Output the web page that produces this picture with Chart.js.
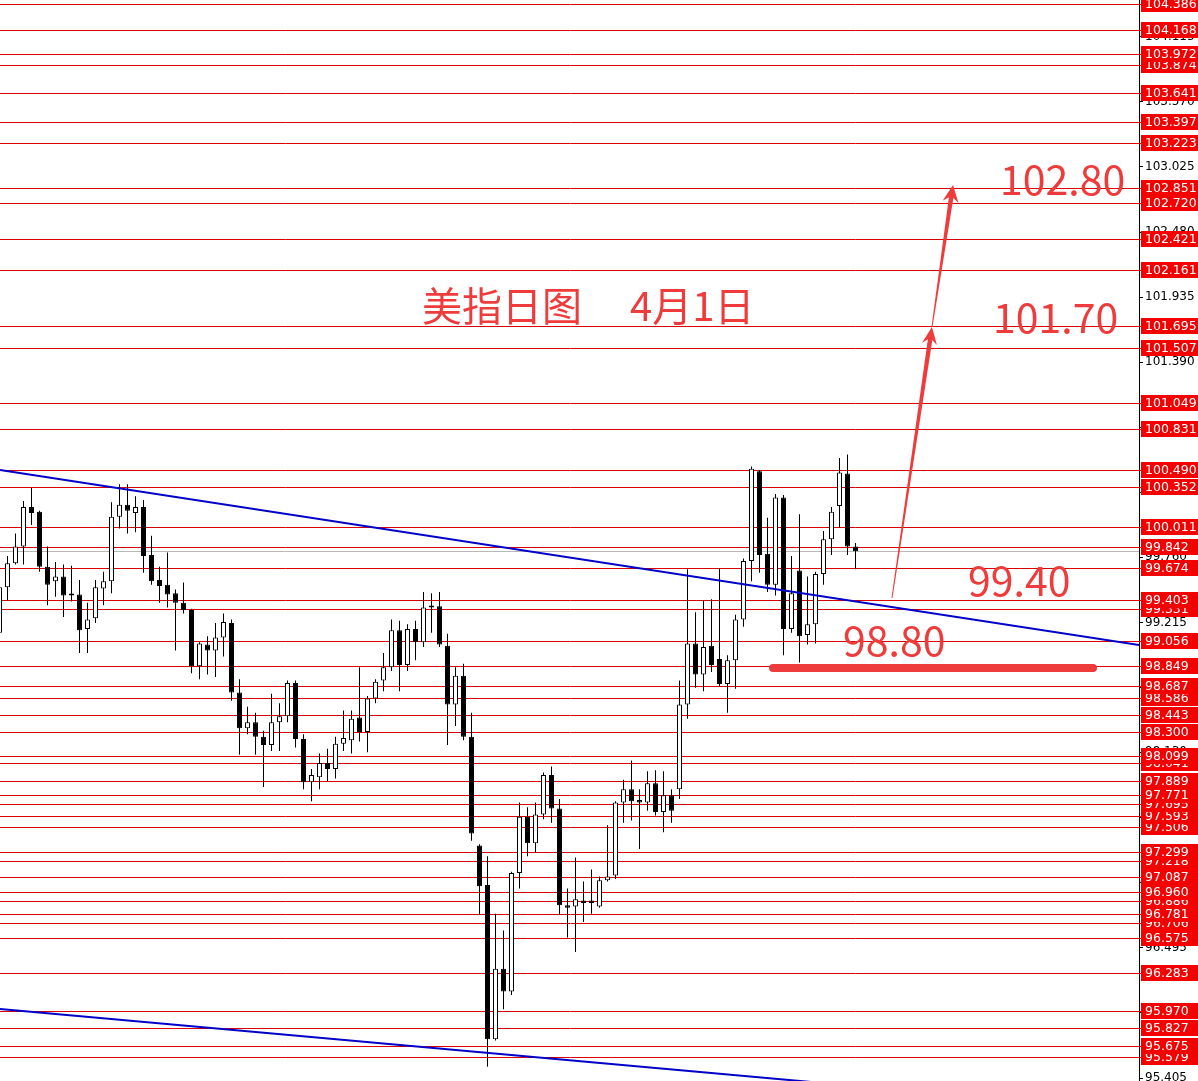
<!DOCTYPE html>
<html>
<head>
<meta charset="utf-8">
<title>美指日图</title>
<script src="https://cdn.jsdelivr.net/npm/chart.js@4.4.1/dist/chart.umd.min.js"></script>
<style>
  html, body { margin: 0; padding: 0; background: #fff; }
  #wrap { width: 1198px; height: 1081px; position: relative; }
</style>
</head>
<body>
<div id="wrap"><canvas id="chart"></canvas></div>
<script>
// daily candles (oldest first)
const opens = [99.13, 99.51, 99.71, 99.85, 100.18, 100.14, 99.68, 99.56, 99.60, 99.45,
  99.45, 99.16, 99.25, 99.50, 99.56, 100.10, 100.20, 100.13, 100.18, 99.78,
  99.57, 99.53, 99.46, 99.38, 99.32, 98.85, 99.03, 98.98, 99.09, 99.21,
  98.63, 98.33, 98.38, 98.26, 98.19, 98.38, 98.43, 98.71, 98.24, 97.88,
  97.92, 98.04, 97.99, 98.20, 98.23, 98.42, 98.30, 98.58, 98.73, 98.84,
  99.15, 98.86, 99.16, 99.05, 99.34, 99.35, 99.02, 98.53, 98.77, 98.26,
  97.35, 97.02, 95.73, 96.32, 96.13, 97.12, 97.59, 97.37, 97.61, 97.94,
  97.66, 96.85, 96.84, 96.89, 96.89, 96.84, 97.06, 97.10, 97.71, 97.82,
  97.73, 97.71, 97.87, 97.63, 97.77, 97.82, 98.53, 99.04, 98.78, 99.02,
  98.91, 98.70, 98.90, 99.24, 99.73, 100.48, 99.79, 99.53, 100.26, 99.16,
  99.65, 99.11, 99.20, 99.62, 99.91, 100.19, 100.46, 99.85];
const highs = [99.57, 99.77, 99.96, 100.23, 100.34, 100.15, 99.85, 99.72, 99.70, 99.69,
  99.57, 99.38, 99.57, 99.64, 100.22, 100.37, 100.37, 100.27, 100.24, 99.94,
  99.68, 99.80, 99.49, 99.55, 99.33, 99.05, 99.10, 99.21, 99.29, 99.24,
  98.74, 98.51, 98.46, 98.31, 98.62, 98.54, 98.73, 98.73, 98.28, 97.99,
  98.12, 98.16, 98.26, 98.48, 98.48, 98.84, 98.60, 98.74, 98.96, 99.24,
  99.23, 99.20, 99.23, 99.47, 99.46, 99.47, 99.12, 98.84, 98.87, 98.46,
  97.36, 97.26, 96.78, 96.64, 97.13, 97.71, 97.67, 97.71, 97.96, 98.01,
  97.74, 96.99, 97.25, 97.05, 97.15, 97.09, 97.52, 97.72, 97.90, 98.06,
  97.82, 97.97, 97.98, 97.97, 97.82, 98.73, 99.66, 99.30, 99.40, 99.41,
  99.67, 98.94, 99.28, 99.75, 100.52, 100.49, 100.09, 100.29, 100.28, 99.77,
  100.12, 99.60, 99.64, 99.98, 100.18, 100.59, 100.62, 99.88];
const lows = [99.07, 99.40, 99.70, 99.70, 100.03, 99.64, 99.36, 99.43, 99.26, 99.39,
  98.96, 98.96, 99.21, 99.36, 99.46, 100.00, 99.96, 99.97, 99.63, 99.53,
  99.38, 99.34, 98.98, 99.29, 98.79, 98.74, 98.78, 98.76, 98.93, 98.56,
  98.11, 98.28, 98.11, 97.84, 98.14, 98.14, 98.38, 98.17, 97.82, 97.72,
  97.82, 97.89, 97.91, 98.14, 98.12, 98.22, 98.13, 98.54, 98.64, 98.81,
  98.64, 98.81, 98.90, 99.01, 99.13, 99.01, 98.19, 98.35, 98.23, 97.39,
  96.77, 95.50, 95.72, 95.98, 96.10, 96.99, 97.26, 97.29, 97.57, 97.54,
  96.77, 96.58, 96.46, 96.71, 96.78, 96.83, 97.05, 97.07, 97.54, 97.56,
  97.32, 97.64, 97.60, 97.46, 97.54, 97.74, 98.41, 98.67, 98.64, 98.80,
  98.68, 98.46, 98.66, 99.18, 99.56, 99.63, 99.47, 99.44, 98.94, 99.13,
  98.88, 99.03, 99.04, 99.53, 99.78, 100.01, 99.78, 99.66];
const closes = [99.51, 99.71, 99.85, 100.18, 100.13, 99.68, 99.53, 99.60, 99.44, 99.44,
  99.15, 99.24, 99.51, 99.56, 100.10, 100.20, 100.15, 100.18, 99.77, 99.56,
  99.52, 99.45, 99.38, 99.32, 98.85, 99.04, 98.98, 99.09, 99.22, 98.63,
  98.33, 98.38, 98.26, 98.19, 98.38, 98.43, 98.71, 98.24, 97.88, 97.94,
  98.04, 97.99, 98.20, 98.25, 98.41, 98.30, 98.58, 98.72, 98.84, 99.15,
  98.86, 99.16, 99.05, 99.34, 99.35, 99.03, 98.53, 98.77, 98.26, 97.45,
  97.01, 95.73, 96.32, 96.13, 97.12, 97.59, 97.37, 97.61, 97.94, 97.66,
  96.85, 96.83, 96.90, 96.87, 96.87, 97.06, 97.09, 97.71, 97.82, 97.72,
  97.71, 97.87, 97.63, 97.77, 97.64, 98.53, 99.04, 98.78, 99.01, 98.86,
  98.70, 98.90, 99.24, 99.73, 100.50, 99.78, 99.53, 100.26, 99.16, 99.46,
  99.10, 99.20, 99.62, 99.91, 100.14, 100.47, 99.85, 99.81];

// horizontal price levels with their red labels
const levels = [104.386, 104.168, 103.972, 103.874, 103.641, 103.397, 103.223, 102.851,
  102.720, 102.421, 102.161, 101.695, 101.507, 101.049, 100.831, 100.490, 100.352,
  100.011, 99.842, 99.674, 99.403, 99.331, 99.056, 98.849, 98.687, 98.586, 98.443,
  98.300, 98.099, 98.041, 97.889, 97.771, 97.695, 97.593, 97.506, 97.299, 97.218,
  97.087, 96.960, 96.886, 96.781, 96.706, 96.575, 96.283, 95.970, 95.827, 95.675, 95.579];
const lastPrice = 99.81;

// axis ticks
const tickValues = [95.405, 95.950, 96.495, 97.040, 97.585, 98.130, 98.675, 99.215, 99.760,
  100.305, 100.845, 101.390, 101.935, 102.480, 103.025, 103.570, 104.115];
const tickLabels = ['95.405', '95.950', '96.495', '97.040', '97.585', '98.130', '98.675', '99.215', '99.760',
  '100.305', '100.845', '101.390', '101.935', '102.480', '103.025', '103.570', '104.115'];

// trend lines (bar index, price)
const upperTrend = [{ x: 0.0625, y: 100.490 }, { x: 142.4375, y: 99.027 }];
const lowerTrend = [{ x: 0.0625, y: 95.983 }, { x: 142.4375, y: 95.126 }];

// hand drawn notes
const targetLabels = [
  { text: '102.80', x: 125.06, y: 102.915 },
  { text: '101.70', x: 124.19, y: 101.761 },
  { text: '99.40', x: 121.06, y: 99.562 },
  { text: '98.80', x: 105.44, y: 99.061 }
];
const titleParts = [
  { text: '美指日图', x: 52.81, y: 101.87 },
  { text: '4月1日', x: 78.81, y: 101.87 }
];
const arrowPath = [[111.56, 99.42], [116.56, 101.686], [119.19, 102.873]];
const supportStroke = [[96.69, 98.835], [136.69, 98.835]];

const RED = '#ee3b3b';

function drawArrow(ctx, x0, y0, x1, y1, w0, w1, headLen, headW) {
  const len = Math.hypot(x1 - x0, y1 - y0);
  const ux = (x1 - x0) / len, uy = (y1 - y0) / len;
  const nx = -uy, ny = ux;
  const bx = x1 - ux * headLen, by = y1 - uy * headLen;
  const jx = x1 - ux * headLen * 0.75, jy = y1 - uy * headLen * 0.75;
  ctx.beginPath();
  ctx.moveTo(x0 + nx * w0 / 2, y0 + ny * w0 / 2);
  ctx.lineTo(jx + nx * w1 / 2, jy + ny * w1 / 2);
  ctx.lineTo(bx + nx * headW / 2, by + ny * headW / 2);
  ctx.lineTo(x1, y1);
  ctx.lineTo(bx - nx * headW / 2, by - ny * headW / 2);
  ctx.lineTo(jx - nx * w1 / 2, jy - ny * w1 / 2);
  ctx.lineTo(x0 - nx * w0 / 2, y0 - ny * w0 / 2);
  ctx.closePath();
  ctx.fill();
}

const levelsPlugin = {
  id: 'levels',
  beforeDatasetsDraw(chart) {
    const { ctx, chartArea: a, scales: { y } } = chart;
    ctx.save();
    ctx.lineWidth = 1;
    ctx.strokeStyle = '#d80000';
    levels.forEach(v => {
      const py = Math.round(y.getPixelForValue(v)) + 0.5;
      ctx.beginPath();
      ctx.moveTo(a.left, py);
      ctx.lineTo(a.right + 2, py);
      ctx.stroke();
    });
    ctx.strokeStyle = '#b8b8b8';
    const lp = Math.round(y.getPixelForValue(lastPrice)) + 0.5;
    ctx.beginPath();
    ctx.moveTo(a.left, lp);
    ctx.lineTo(a.right, lp);
    ctx.stroke();
    ctx.restore();
  },
  afterDraw(chart) {
    const { ctx, chartArea: a, scales: { x, y } } = chart;
    ctx.save();

    // red price boxes on the axis, lowest first so higher ones sit on top
    ctx.font = '12.5px "DejaVu Sans"';
    ctx.textBaseline = 'middle';
    ctx.textAlign = 'left';
    levels.slice().reverse().forEach(v => {
      const py = Math.round(y.getPixelForValue(v));
      ctx.fillStyle = '#f40000';
      ctx.fillRect(a.right + 2, py - 8, 57, 16);
      ctx.fillStyle = '#fff';
      ctx.fillText(v.toFixed(3), a.right + 6, py + 1);
    });

    // support stroke under 98.80
    ctx.strokeStyle = RED;
    ctx.lineCap = 'round';
    ctx.lineWidth = 8;
    ctx.beginPath();
    ctx.moveTo(x.getPixelForValue(supportStroke[0][0]), y.getPixelForValue(supportStroke[0][1]));
    ctx.lineTo(x.getPixelForValue(supportStroke[1][0]), y.getPixelForValue(supportStroke[1][1]));
    ctx.stroke();

    // arrows
    ctx.fillStyle = RED;
    const pts = arrowPath.map(p => [x.getPixelForValue(p[0]), y.getPixelForValue(p[1])]);
    drawArrow(ctx, pts[0][0], pts[0][1], pts[1][0], pts[1][1], 1, 4.5, 17, 15);
    drawArrow(ctx, pts[1][0], pts[1][1], pts[2][0], pts[2][1], 1, 4.5, 17, 16);

    // texts
    ctx.textBaseline = 'alphabetic';
    ctx.font = '41px "Noto Sans CJK SC"';
    targetLabels.forEach(t => {
      ctx.fillText(t.text, x.getPixelForValue(t.x), y.getPixelForValue(t.y) + 15);
    });
    ctx.font = '40px "Noto Sans CJK SC"';
    titleParts.forEach(t => {
      ctx.fillText(t.text, x.getPixelForValue(t.x), y.getPixelForValue(t.y) + 16);
    });
    ctx.restore();
  }
};

const wicks = lows.map((l, i) => ({ x: i, y: [l, highs[i]] }));
const bodies = opens.map((o, i) => ({ x: i, y: [o, closes[i]] }));
const bodyColors = opens.map((o, i) => (closes[i] >= o ? '#ffffff' : '#000000'));

new Chart(document.getElementById('chart'), {
  type: 'bar',
  data: {
    datasets: [
      {
        type: 'line', data: upperTrend, borderColor: '#0000c8', borderWidth: 2,
        pointRadius: 0, order: 0
      },
      {
        type: 'line', data: lowerTrend, borderColor: '#0000c8', borderWidth: 2,
        pointRadius: 0, order: 0
      },
      {
        data: bodies, backgroundColor: bodyColors, borderColor: '#000', borderWidth: 1,
        borderSkipped: false, barThickness: 5, minBarLength: 2, grouped: false,
        inflateAmount: 0, order: 1
      },
      {
        data: wicks, backgroundColor: '#000', borderWidth: 0, barThickness: 1,
        grouped: false, inflateAmount: 0, order: 2
      }
    ]
  },
  options: {
    responsive: true,
    maintainAspectRatio: false,
    animation: false,
    layout: { padding: 0 },
    plugins: { legend: { display: false }, tooltip: { enabled: false } },
    scales: {
      x: { type: 'linear', min: 0.0625, max: 142.4375, offset: false, display: false },
      y: {
        position: 'right',
        min: 95.381,
        max: 104.420,
        afterFit(s) {
          s.width = 59;
          s.paddingTop = 0;
          s.paddingBottom = 0;
        },
        afterBuildTicks(s) { s.ticks = tickValues.map(v => ({ value: v })); },
        ticks: {
          autoSkip: false,
          padding: 2,
          color: '#000',
          font: { family: 'DejaVu Sans', size: 12 },
          callback: (v, i) => tickLabels[i]
        },
        grid: { drawOnChartArea: false, drawTicks: true, tickLength: 4, color: '#000' },
        border: { display: true, color: '#000', width: 1 }
      }
    }
  },
  plugins: [levelsPlugin]
});
</script>
</body>
</html>
